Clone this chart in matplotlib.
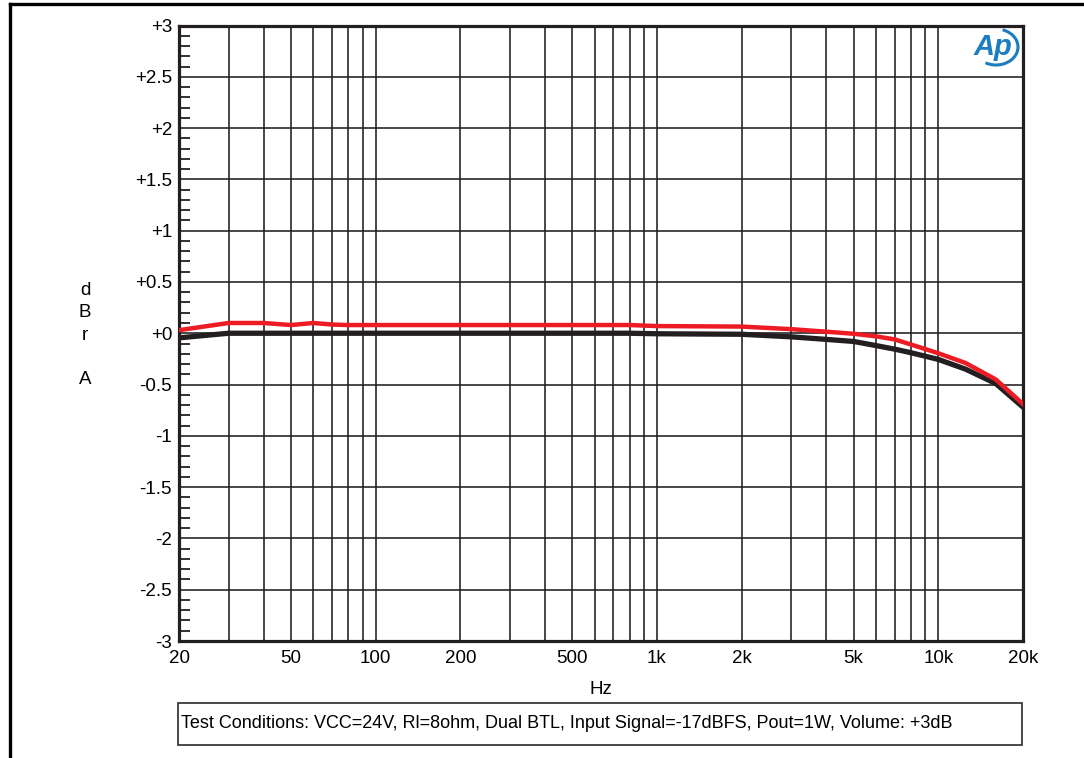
import matplotlib
matplotlib.use("Agg")
import matplotlib.pyplot as plt
from matplotlib.patches import Rectangle, Arc
from matplotlib.lines import Line2D
from matplotlib.ticker import FixedLocator, MultipleLocator, NullFormatter

plt.rcParams['font.family'] = ['Liberation Sans', 'DejaVu Sans']

# frequency response, dBr A
freq = [20, 30, 40, 50, 60, 70, 80, 100, 200, 500, 800, 1000, 2000, 3000,
        4000, 5000, 6000, 7000, 8000, 10000, 12500, 16000, 20000]
red_db = [0.03, 0.10, 0.10, 0.08, 0.10, 0.085, 0.08, 0.08, 0.08, 0.08, 0.08,
          0.07, 0.065, 0.04, 0.015, -0.005, -0.03, -0.06, -0.11, -0.195,
          -0.29, -0.45, -0.69]
black_db = [-0.045, 0.0, 0.0, 0.0, 0.0, 0.0, 0.0, 0.0, 0.0, 0.0, 0.0,
            -0.005, -0.01, -0.035, -0.06, -0.08, -0.12, -0.155, -0.19, -0.255,
            -0.35, -0.49, -0.72]

xgrid = [20, 30, 40, 50, 60, 70, 80, 90, 100, 200, 300, 400, 500, 600, 700,
         800, 900, 1000, 2000, 3000, 4000, 5000, 6000, 7000, 8000, 9000,
         10000, 20000]
xticks = [20, 50, 100, 200, 500, 1000, 2000, 5000, 10000, 20000]
xlabels = ['20', '50', '100', '200', '500', '1k', '2k', '5k', '10k', '20k']
yticks = [-3, -2.5, -2, -1.5, -1, -0.5, 0, 0.5, 1, 1.5, 2, 2.5, 3]
ylabels = ['-3', '-2.5', '-2', '-1.5', '-1', '-0.5', '+0', '+0.5', '+1',
           '+1.5', '+2', '+2.5', '+3']

notes = "Test Conditions: VCC=24V, Rl=8ohm, Dual BTL, Input Signal=-17dBFS, Pout=1W, Volume: +3dB"

W, H = 1084, 758
fig = plt.figure(figsize=(W / 100, H / 100), dpi=100)
ax = fig.add_axes([179 / W, 1 - 641 / H, (1023 - 179) / W, (641 - 25.5) / H])

ax.set_xscale('log')
ax.set_xlim(20, 20000)
ax.set_ylim(-3, 3)

# grid lines drawn by hand so every decade line shows
for f in xgrid[1:-1]:
    ax.axvline(f, color='#1e1e1e', lw=1.15, zorder=1)
for v in yticks[1:-1]:
    ax.axhline(v, color='#1e1e1e', lw=1.15, zorder=1)

ax.plot(freq, black_db, color='#231f20', lw=3.8, zorder=3, solid_joinstyle='round')
ax.plot(freq, red_db, color='#ed1c24', lw=3.2, zorder=4, solid_joinstyle='round')

ax.xaxis.set_major_locator(FixedLocator(xticks))
ax.set_xticklabels(xlabels)
ax.xaxis.set_minor_formatter(NullFormatter())
ax.tick_params(axis='x', which='both', length=0, pad=6.5, labelsize=13.5)

ax.set_yticks(yticks)
ax.set_yticklabels(ylabels)
ax.yaxis.set_minor_locator(MultipleLocator(0.1))
ax.tick_params(axis='y', which='major', length=0, pad=5, labelsize=13.5)
ax.tick_params(axis='y', which='minor', direction='in', length=8, width=1.3,
               color='#231f20')

for s in ax.spines.values():
    s.set_linewidth(2.3)
    s.set_color('#231f20')

fig.text(601 / W, 1 - 690 / H, 'Hz', ha='center', va='center', fontsize=13.5)
fig.text(85 / W, 1 - 335 / H, 'd\nB\nr\n\nA', ha='center', va='center',
         fontsize=13.5, linespacing=1.42)

# AP logo
fig.text(993 / W, 1 - 47 / H, 'Ap', ha='center', va='center', fontsize=21,
         style='italic', weight='bold', color='#1b7dc0')
fig.add_artist(Arc((996 / W, 1 - 47 / H), 44 / W, 36 / H,
                   theta1=-115, theta2=75, color='#1b7dc0', lw=2.2,
                   transform=fig.transFigure))

# test conditions box
fig.add_artist(Rectangle((178 / W, 1 - 745 / H), (1022 - 178) / W,
                         42 / H, transform=fig.transFigure, fill=False,
                         edgecolor='#3a3a3a', lw=1.3))
fig.text(181 / W, 1 - 724 / H, notes, ha='left', va='center', fontsize=13)

# page frame
fig.add_artist(Line2D([10 / W, 10 / W], [0, 1 - 4 / H], color='black',
                      lw=2.4, transform=fig.transFigure))
fig.add_artist(Line2D([10 / W, 1], [1 - 4 / H, 1 - 4 / H], color='black',
                      lw=2.4, transform=fig.transFigure))

fig.savefig('out.png', dpi=100)
